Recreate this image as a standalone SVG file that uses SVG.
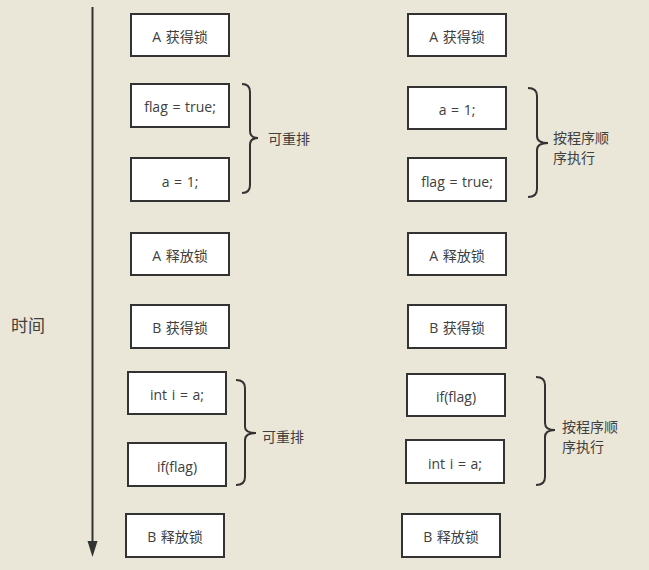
<svg xmlns="http://www.w3.org/2000/svg" width="649" height="570" viewBox="0 0 649 570">
<style>
.box{fill:#ffffff;stroke:#333333;stroke-width:2}
.t{font-family:"Open Sans","Noto Sans CJK SC",sans-serif;font-size:14px;fill:#404040;text-anchor:middle;word-spacing:1px}
.lbl{font-family:"Open Sans","Noto Sans CJK SC",sans-serif;font-size:14px;fill:#404040}
.brace{fill:none;stroke:#333333;stroke-width:2}
.axis{stroke:#333333;stroke-width:2}
</style>
<rect width="649" height="570" fill="#ebe7d8"/>
<g id="connectors">
<line class="axis" x1="92.5" y1="7" x2="92.5" y2="543"/>
<path d="M87.5,541 L97.5,541 L92.5,557 Z" fill="#333333"/>
</g>
<g id="time"><text class="lbl" x="11" y="332" style="font-size:17px">时间</text></g>
<g id="l1"><rect class="box" x="131" y="14" width="98" height="42"/><text class="t" x="180" y="41.5">A 获得锁</text></g>
<g id="l2"><rect class="box" x="131" y="84" width="98" height="43"/><text class="t" x="180" y="111.5">flag = true;</text></g>
<g id="l3"><rect class="box" x="131" y="158" width="98" height="43"/><text class="t" x="180" y="186.5">a = 1;</text></g>
<g id="l4"><rect class="box" x="131" y="233" width="98" height="42"/><text class="t" x="180" y="260.5">A 释放锁</text></g>
<g id="l5"><rect class="box" x="131" y="305" width="98" height="43"/><text class="t" x="180" y="332.5">B 获得锁</text></g>
<g id="l6"><rect class="box" x="128" y="372" width="98" height="42"/><text class="t" x="177" y="399.5">int i = a;</text></g>
<g id="l7"><rect class="box" x="128" y="443" width="98" height="43"/><text class="t" x="177" y="471.5">if(flag)</text></g>
<g id="l8"><rect class="box" x="126" y="514" width="98" height="43"/><text class="t" x="175" y="541.5">B 释放锁</text></g>
<g id="lb1"><path class="brace" d="M242,84 Q250,84 250,92 L250,131 Q250,138 258,138 Q250,138 250,145 L250,185 Q250,193 242,193"/><text class="lbl" x="268" y="144">可重排</text></g>
<g id="lb2"><path class="brace" d="M236,380 Q245,380 245,388 L245,427 Q245,433 256,433 Q245,433 245,440 L245,477 Q245,485 236,485"/><text class="lbl" x="262" y="442">可重排</text></g>
<g id="r1"><rect class="box" x="408" y="14" width="98" height="42"/><text class="t" x="457" y="41.5">A 获得锁</text></g>
<g id="r2"><rect class="box" x="408" y="87" width="98" height="42"/><text class="t" x="457" y="114.5">a = 1;</text></g>
<g id="r3"><rect class="box" x="408" y="158" width="98" height="43"/><text class="t" x="457" y="186.5">flag = true;</text></g>
<g id="r4"><rect class="box" x="408" y="233" width="98" height="42"/><text class="t" x="457" y="260.5">A 释放锁</text></g>
<g id="r5"><rect class="box" x="408" y="305" width="98" height="43"/><text class="t" x="457" y="332.5">B 获得锁</text></g>
<g id="r6"><rect class="box" x="407" y="374" width="98" height="42"/><text class="t" x="456" y="401.5">if(flag)</text></g>
<g id="r7"><rect class="box" x="406" y="440" width="98" height="43"/><text class="t" x="455" y="468.5">int i = a;</text></g>
<g id="r8"><rect class="box" x="402" y="514" width="98" height="43"/><text class="t" x="451" y="541.5">B 释放锁</text></g>
<g id="rb1"><path class="brace" d="M528,88 Q537,88 537,96 L537,136 Q537,143 548,143 Q537,143 537,150 L537,189 Q537,197 528,197"/><text class="lbl" x="553" y="143">按程序顺</text><text class="lbl" x="553" y="163">序执行</text></g>
<g id="rb2"><path class="brace" d="M536,377 Q545,377 545,385 L545,423 Q545,430 555,430 Q545,430 545,437 L545,477 Q545,485 536,485"/><text class="lbl" x="562" y="432">按程序顺</text><text class="lbl" x="562" y="452">序执行</text></g>
</svg>
